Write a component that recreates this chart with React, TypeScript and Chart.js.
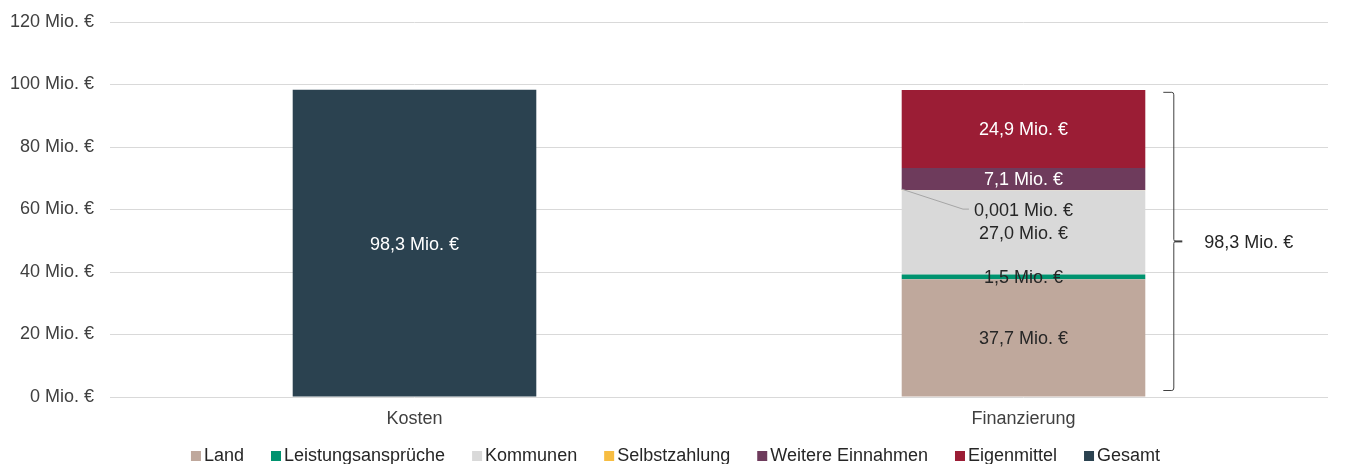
import React, { useEffect, useRef } from "react";
import { Chart, registerables } from "chart.js";

Chart.register(...registerables);

const CATEGORIES = ["Kosten", "Finanzierung"];
const SERIES_NAMES = [
  "Land",
  "Leistungsansprüche",
  "Kommunen",
  "Selbstzahlung",
  "Weitere Einnahmen",
  "Eigenmittel",
  "Gesamt",
];
const LAND = [null, 37.7];
const LEISTUNG = [null, 1.5];
const KOMMUNEN = [null, 27.0];
const SELBST = [null, 0.001];
const WEITERE = [null, 7.1];
const EIGEN = [null, 24.9];
const GESAMT = [98.3, null];
const FINANZ_TOTAL = 98.3;
const Y_TICKS = [0, 20, 40, 60, 80, 100, 120];

const COLORS = ["#BFA89C", "#00936F", "#D9D9D9", "#F7BD42", "#6E3B5C", "#9B1D35", "#2B4250"];
const LABEL_COLORS = ["#262626", "#262626", "#262626", "#262626", "#FFFFFF", "#FFFFFF", "#FFFFFF"];
const FONT = '"Liberation Sans", Arial, sans-serif';
const TEXT = "#404040";
const DY = 1.5;

const fmt = (v: number) =>
  (v < 0.01 ? v.toFixed(3) : v.toFixed(1)).replace(".", ",") + " Mio. €";

const labelPlugin = {
  id: "barLabels",
  afterDatasetsDraw(chart: any) {
    const ctx = chart.ctx;
    ctx.save();
    ctx.font = `18px ${FONT}`;
    ctx.textBaseline = "middle";
    chart.data.datasets.forEach((ds: any, i: number) => {
      const meta = chart.getDatasetMeta(i);
      meta.data.forEach((el: any, j: number) => {
        const v = ds.data[j];
        if (v == null) return;
        const { x, y, base, width } = el.getProps(["x", "y", "base", "width"], true);
        const text = fmt(v);
        if (v < 0.5) {
          const ly = y + 19;
          const tw = ctx.measureText(text).width;
          const tx = x - tw / 2;
          ctx.strokeStyle = "#A6A6A6";
          ctx.lineWidth = 1;
          ctx.beginPath();
          ctx.moveTo(x - width / 2, y - 1);
          ctx.lineTo(tx - 11, ly);
          ctx.lineTo(tx - 5, ly);
          ctx.stroke();
          ctx.fillStyle = LABEL_COLORS[i];
          ctx.textAlign = "left";
          ctx.fillText(text, tx, ly + DY);
        } else {
          ctx.fillStyle = LABEL_COLORS[i];
          ctx.textAlign = "center";
          ctx.fillText(text, x, (y + base) / 2 + DY);
        }
      });
    });

    // bracket beside the Finanzierung bar
    const yScale = chart.scales.y;
    const meta0 = chart.getDatasetMeta(0);
    const el = meta0.data[1];
    const { x, width } = el.getProps(["x", "width"], true);
    const right = x + width / 2;
    const top = yScale.getPixelForValue(FINANZ_TOTAL) + 2;
    const bottom = yScale.getPixelForValue(0) - 6;
    const mid = (top + bottom) / 2;
    const bx = right + 28.5;
    ctx.strokeStyle = "#404040";
    ctx.lineWidth = 1;
    ctx.beginPath();
    ctx.moveTo(right + 18, top + 0.5);
    ctx.lineTo(bx - 2, top + 0.5);
    ctx.quadraticCurveTo(bx, top + 0.5, bx, top + 3);
    ctx.lineTo(bx, mid - 2);
    ctx.quadraticCurveTo(bx, mid, bx + 2, mid);
    ctx.moveTo(bx + 2, mid);
    ctx.quadraticCurveTo(bx, mid, bx, mid + 2);
    ctx.lineTo(bx, bottom - 3);
    ctx.quadraticCurveTo(bx, bottom - 0.5, bx - 2, bottom - 0.5);
    ctx.lineTo(right + 18, bottom - 0.5);
    ctx.stroke();
    ctx.lineWidth = 2;
    ctx.beginPath();
    ctx.moveTo(bx + 1, mid);
    ctx.lineTo(right + 37, mid);
    ctx.stroke();
    ctx.fillStyle = "#262626";
    ctx.textAlign = "left";
    ctx.fillText(fmt(FINANZ_TOTAL), right + 59, mid + DY);
    ctx.restore();
  },
};

const legendPlugin = {
  id: "customLegend",
  afterDraw(chart: any) {
    const ctx = chart.ctx;
    ctx.save();
    ctx.font = `18px ${FONT}`;
    ctx.textBaseline = "middle";
    ctx.textAlign = "left";
    const widths = SERIES_NAMES.map((n) => ctx.measureText(n).width);
    const box = 10;
    const gap = 3;
    const spacing = 27;
    const total =
      widths.reduce((a, w) => a + box + gap + w, 0) + spacing * (SERIES_NAMES.length - 1);
    let xPos = (chart.width - total) / 2 + 3;
    const cy = 447;
    SERIES_NAMES.forEach((n, i) => {
      ctx.fillStyle = COLORS[i];
      ctx.fillRect(xPos, cy - 4, box, box);
      ctx.fillStyle = "#262626";
      ctx.fillText(n, xPos + box + gap, cy + DY);
      xPos += box + gap + widths[i] + spacing;
    });
    ctx.restore();
  },
};

export default function App() {
  const ref = useRef<HTMLCanvasElement>(null);
  useEffect(() => {
    const series = [LAND, LEISTUNG, KOMMUNEN, SELBST, WEITERE, EIGEN, GESAMT];
    const chart = new Chart(ref.current as HTMLCanvasElement, {
      type: "bar",
      data: {
        labels: CATEGORIES,
        datasets: series.map((d, i) => ({
          label: SERIES_NAMES[i],
          data: d as any,
          backgroundColor: COLORS[i],
          borderWidth: 0,
          barPercentage: 0.4,
          categoryPercentage: 1,
        })),
      },
      options: {
        responsive: false,
        animation: false,
        layout: { padding: { top: 14, right: 9, bottom: 35, left: 0 } },
        plugins: {
          legend: { display: false },
          tooltip: { enabled: false },
        },
        scales: {
          x: {
            stacked: true,
            grid: { display: false, drawTicks: false },
            border: { display: false },
            ticks: { font: { size: 18, family: FONT }, color: TEXT, padding: 11 },
            afterFit: (s: any) => {
              s.height = 32;
              s.paddingLeft = 0;
              s.paddingRight = 0;
            },
          },
          y: {
            stacked: true,
            min: 0,
            max: 120,
            afterBuildTicks: (s: any) => {
              s.ticks = Y_TICKS.map((v) => ({ value: v }));
            },
            grid: { color: "#D9D9D9", drawTicks: false, lineWidth: 1 },
            border: { display: false },
            ticks: {
              font: { size: 18, family: FONT },
              color: TEXT,
              padding: 16,
              callback: (v: any) => `${v} Mio. €`,
            },
            afterFit: (s: any) => {
              s.width = 102;
              s.paddingTop = 0;
              s.paddingBottom = 0;
            },
          },
        },
      },
      plugins: [labelPlugin, legendPlugin],
    });
    return () => chart.destroy();
  }, []);
  return <canvas ref={ref} width={1329} height={456} style={{ display: "block" }} />;
}
